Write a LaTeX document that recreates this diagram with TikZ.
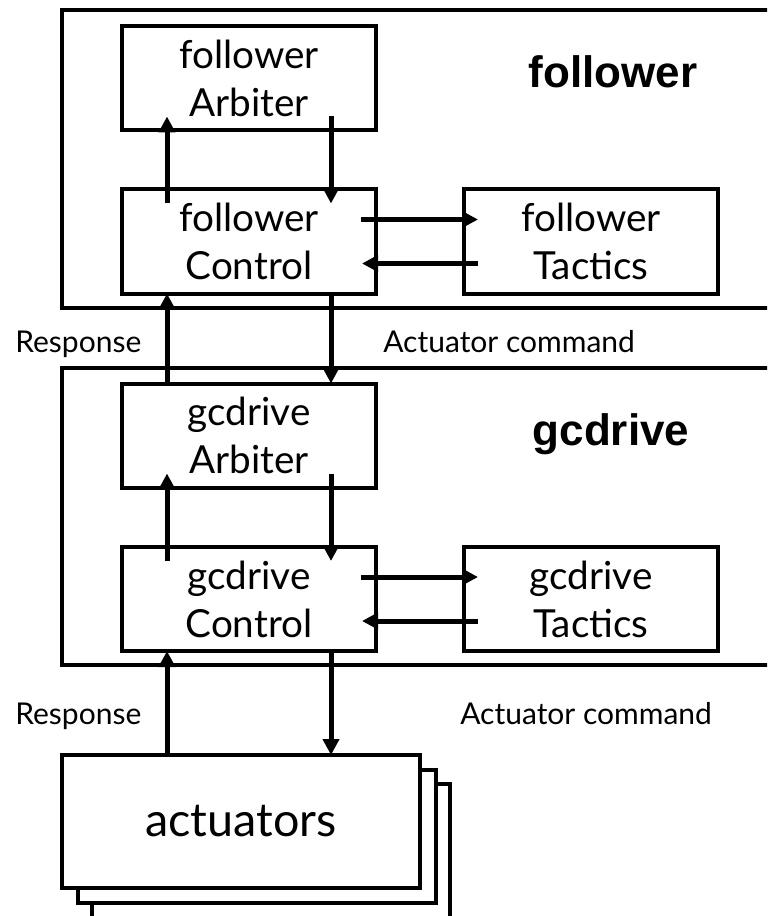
\documentclass[tikz,border=0pt]{standalone}
\usepackage{fontspec}
\setmainfont{Lato}
\newfontfamily\headfont{Liberation Sans}
\usetikzlibrary{arrows.meta,calc}
\begin{document}
\begin{tikzpicture}[x=0.75pt,y=-0.75pt,
  frame/.style={draw,line width=3pt,inner sep=0pt,outer sep=0pt,minimum width=546pt},
  unit/.style={draw,line width=3pt,inner sep=0pt,outer sep=0pt,
    minimum width=190.5pt,minimum height=78pt,align=center,
    font=\fontsize{29}{36}\selectfont},
  layer/.style={draw,fill=white,line width=3pt,inner sep=0pt,outer sep=0pt,
    minimum width=268.5pt,minimum height=99.75pt,
    font=\fontsize{35}{40}\selectfont},
  modname/.style={font=\headfont\bfseries\fontsize{33}{38}\selectfont,anchor=base,inner sep=0pt},
  tag/.style={font=\fontsize{22.5}{27}\selectfont,anchor=base west,inner sep=0pt},
  flow/.style={line width=3.75pt,-{Triangle[length=12pt,width=12pt]}}]

\clip (0,0) rectangle (767,916);

% module frames (open to the right)
\node[frame,minimum height=223.5pt] (fmod) at (426,159) {};
\node[frame,minimum height=222.75pt] (gmod) at (426,516.5) {};

% follower module
\node[unit] (fArb) at (249,78.5) {follower\\Arbiter};
\node[unit] (fCtl) at (249,241.5) {follower\\Control};
\node[unit] (fTac) at (591,241.5) {follower\\Tactics};
\node[modname] (fname) at (613,88) {follower};

% gcdrive module
\node[unit] (gArb) at (249,435.5) {gcdrive\\Arbiter};
\node[unit] (gCtl) at (249,599) {gcdrive\\Control};
\node[unit] (gTac) at (591,599) {gcdrive\\Tactics};
\node[modname] (gname) at (611,445) {gcdrive};

% stacked actuators (the last sheet runs off the bottom edge)
\node[layer,minimum height=112.5pt] (act3) at (271,859) {};
\node[layer] (act2) at (257,836.5) {};
\node[layer] (act) at (241,821.5) {actuators};

% flow labels
\node[tag] (resp1) at (15,352) {Response};
\node[tag] (cmd1) at (383,352) {Actuator command};
\node[tag] (resp2) at (15,724) {Response};
\node[tag] (cmd2) at (460,724) {Actuator command};

% follower internal flows
\draw[flow] ($(fCtl.north)+(-82,14)$) -- ($(fArb.south)+(-82,-14)$);
\draw[flow] ($(fArb.south)+(82,-14)$) -- ($(fCtl.north)+(82,14)$);
\draw[flow] ($(fCtl.east)+(-15,-22)$) -- ($(fTac.west)+(14,-22)$);
\draw[flow] ($(fTac.west)+(14,22)$) -- ($(fCtl.east)+(-14,22)$);

% between modules
\draw[flow] ($(gArb.north)+(-82,0)$) -- ($(fCtl.south)+(-82,0)$);
\draw[flow] ($(fCtl.south)+(82,0)$) -- ($(gArb.north)+(82,0)$);

% gcdrive internal flows
\draw[flow] ($(gCtl.north)+(-82,14)$) -- ($(gArb.south)+(-82,-14)$);
\draw[flow] ($(gArb.south)+(82,-14)$) -- ($(gCtl.north)+(82,14)$);
\draw[flow] ($(gCtl.east)+(-15,-22)$) -- ($(gTac.west)+(14,-22)$);
\draw[flow] ($(gTac.west)+(14,22)$) -- ($(gCtl.east)+(-14,22)$);

% to and from the actuators
\draw[flow] (act.north -| gCtl.south) ++(-82,0) coordinate (aup) -- ($(gCtl.south)+(-82,0)$);
\draw[flow] ($(gCtl.south)+(82,0)$) -- (act.north -| {$(gCtl.south)+(82,0)$});
\end{tikzpicture}
\end{document}
